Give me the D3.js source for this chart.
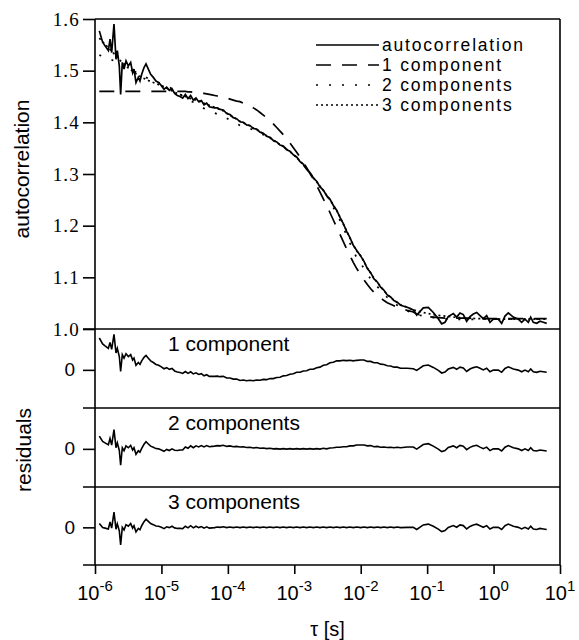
<!DOCTYPE html>
<html>
<head>
<meta charset="utf-8">
<script src="https://cdn.jsdelivr.net/npm/d3@7"></script>
<style>
  body { margin: 0; background: #fff; }
</style>
</head>
<body>
<div id="chart"></div>
<script>
// log10 of lag time tau [s]
var logTau = [
  -5.935, -5.885, -5.849, -5.799, -5.774, -5.749, -5.714, -5.684, -5.664, -5.634,
  -5.614, -5.589, -5.563, -5.533, -5.498, -5.463, -5.433, -5.413, -5.383, -5.348,
  -5.323, -5.297, -5.262, -5.232, -5.197, -5.162, -5.122, -5.082, -5.042, -5.001,
  -4.961, -4.921, -4.881, -4.841, -4.801, -4.761, -4.720, -4.680, -4.640, -4.600,
  -4.560, -4.520, -4.480, -4.439, -4.399, -4.359, -4.319, -4.279, -4.239, -4.199,
  -4.158, -4.118, -4.068, -4.018, -3.968, -3.918, -3.868, -3.817, -3.767, -3.717,
  -3.667, -3.617, -3.567, -3.516, -3.466, -3.416, -3.366, -3.316, -3.265, -3.215,
  -3.165, -3.115, -3.065, -3.014, -2.964, -2.914, -2.864, -2.814, -2.764, -2.713,
  -2.663, -2.613, -2.563, -2.513, -2.462, -2.412, -2.362, -2.312, -2.262, -2.212,
  -2.162, -2.112, -2.060, -2.000, -1.950, -1.900, -1.850, -1.800, -1.750, -1.700,
  -1.650, -1.600, -1.550, -1.500, -1.450, -1.400, -1.300, -1.208, -1.157, -1.058,
  -0.983, -0.907, -0.832, -0.781, -0.731, -0.682, -0.606, -0.556, -0.505, -0.456,
  -0.405, -0.355, -0.305, -0.254, -0.204, -0.155, -0.104, -0.054, -0.004, 0.071,
  0.122, 0.172, 0.222, 0.297, 0.372, 0.423, 0.473, 0.523, 0.559, 0.598,
  0.649, 0.699, 0.749, 0.800
];

// measured autocorrelation
var autocorr = [
  1.577, 1.555, 1.548, 1.539, 1.561, 1.535, 1.590, 1.522, 1.539, 1.509,
  1.454, 1.516, 1.503, 1.519, 1.509, 1.516, 1.496, 1.503, 1.477, 1.487,
  1.480, 1.493, 1.506, 1.513, 1.503, 1.493, 1.487, 1.480, 1.477, 1.471,
  1.464, 1.468, 1.462, 1.465, 1.456, 1.452, 1.450, 1.447, 1.454, 1.446,
  1.452, 1.443, 1.447, 1.440, 1.442, 1.434, 1.437, 1.430, 1.429, 1.428,
  1.428, 1.425, 1.424, 1.417, 1.415, 1.409, 1.407, 1.401, 1.400, 1.395,
  1.394, 1.388, 1.387, 1.381, 1.379, 1.373, 1.371, 1.365, 1.362, 1.356,
  1.354, 1.347, 1.344, 1.337, 1.333, 1.324, 1.319, 1.309, 1.303, 1.292,
  1.286, 1.275, 1.269, 1.258, 1.251, 1.239, 1.230, 1.216, 1.204, 1.189,
  1.177, 1.162, 1.152, 1.141, 1.131, 1.117, 1.109, 1.097, 1.091, 1.081,
  1.075, 1.066, 1.062, 1.055, 1.052, 1.046, 1.042, 1.037, 1.027, 1.041,
  1.042, 1.032, 1.020, 1.010, 1.013, 1.024, 1.030, 1.023, 1.031, 1.028,
  1.015, 1.024, 1.029, 1.032, 1.026, 1.020, 1.026, 1.013, 1.019, 1.019,
  1.011, 1.025, 1.031, 1.023, 1.019, 1.013, 1.019, 1.013, 1.023, 1.013,
  1.011, 1.015, 1.013, 1.011
];

// one-component fit
var fit1 = [
  1.460, 1.460, 1.460, 1.460, 1.460, 1.460, 1.460, 1.460, 1.460, 1.460,
  1.460, 1.460, 1.460, 1.460, 1.460, 1.460, 1.460, 1.460, 1.460, 1.460,
  1.460, 1.460, 1.460, 1.460, 1.460, 1.460, 1.460, 1.460, 1.460, 1.460,
  1.460, 1.460, 1.460, 1.460, 1.460, 1.460, 1.460, 1.460, 1.460, 1.459,
  1.459, 1.458, 1.458, 1.457, 1.456, 1.456, 1.455, 1.454, 1.453, 1.452,
  1.451, 1.450, 1.448, 1.447, 1.445, 1.443, 1.441, 1.440, 1.437, 1.435,
  1.432, 1.428, 1.424, 1.419, 1.414, 1.409, 1.403, 1.397, 1.390, 1.383,
  1.376, 1.368, 1.360, 1.351, 1.342, 1.333, 1.323, 1.312, 1.301, 1.290,
  1.278, 1.265, 1.252, 1.239, 1.225, 1.211, 1.197, 1.183, 1.169, 1.155,
  1.142, 1.129, 1.117, 1.105, 1.095, 1.086, 1.078, 1.071, 1.065, 1.060,
  1.055, 1.051, 1.048, 1.045, 1.042, 1.040, 1.036, 1.033, 1.029, 1.026,
  1.024, 1.023, 1.022, 1.0215, 1.021, 1.021, 1.021, 1.021, 1.021, 1.021,
  1.021, 1.021, 1.0208, 1.0206, 1.0204, 1.0202, 1.020, 1.020, 1.020, 1.020,
  1.020, 1.020, 1.020, 1.020, 1.020, 1.020, 1.020, 1.020, 1.020, 1.020,
  1.020, 1.020, 1.020, 1.020
];

// two-component fit
var fit2 = [
  1.530, 1.528, 1.526, 1.524, 1.523, 1.521, 1.519, 1.518, 1.517, 1.515,
  1.514, 1.512, 1.510, 1.508, 1.505, 1.503, 1.500, 1.499, 1.497, 1.494,
  1.492, 1.491, 1.489, 1.487, 1.485, 1.483, 1.481, 1.479, 1.477, 1.475,
  1.473, 1.470, 1.468, 1.465, 1.461, 1.458, 1.454, 1.451, 1.447, 1.444,
  1.441, 1.439, 1.436, 1.433, 1.430, 1.427, 1.425, 1.422, 1.420, 1.418,
  1.416, 1.414, 1.411, 1.408, 1.404, 1.401, 1.398, 1.394, 1.392, 1.390,
  1.388, 1.385, 1.382, 1.379, 1.376, 1.372, 1.369, 1.365, 1.361, 1.357,
  1.353, 1.348, 1.343, 1.338, 1.332, 1.325, 1.318, 1.310, 1.302, 1.293,
  1.285, 1.276, 1.267, 1.258, 1.248, 1.235, 1.224, 1.210, 1.196, 1.181,
  1.166, 1.151, 1.138, 1.127, 1.117, 1.106, 1.097, 1.089, 1.082, 1.075,
  1.068, 1.061, 1.056, 1.051, 1.046, 1.042, 1.035, 1.030, 1.028, 1.025,
  1.023, 1.022, 1.021, 1.020, 1.0195, 1.019, 1.019, 1.0188, 1.0185, 1.0182,
  1.018, 1.0185, 1.0188, 1.019, 1.0195, 1.0195, 1.0196, 1.0194, 1.019, 1.019,
  1.019, 1.019, 1.019, 1.019, 1.019, 1.019, 1.019, 1.019, 1.019, 1.019,
  1.019, 1.019, 1.019, 1.019
];

// three-component fit
var fit3 = [
  1.563, 1.556, 1.551, 1.545, 1.541, 1.538, 1.533, 1.529, 1.526, 1.522,
  1.519, 1.516, 1.513, 1.509, 1.505, 1.502, 1.499, 1.497, 1.494, 1.491,
  1.489, 1.487, 1.485, 1.483, 1.481, 1.479, 1.477, 1.475, 1.473, 1.471,
  1.469, 1.466, 1.463, 1.461, 1.458, 1.456, 1.454, 1.452, 1.450, 1.448,
  1.446, 1.445, 1.443, 1.441, 1.439, 1.437, 1.435, 1.433, 1.431, 1.429,
  1.427, 1.425, 1.422, 1.418, 1.414, 1.410, 1.406, 1.402, 1.399, 1.396,
  1.393, 1.389, 1.386, 1.382, 1.378, 1.374, 1.370, 1.366, 1.361, 1.357,
  1.353, 1.348, 1.343, 1.338, 1.332, 1.325, 1.318, 1.310, 1.302, 1.293,
  1.285, 1.276, 1.268, 1.259, 1.250, 1.240, 1.229, 1.217, 1.203, 1.190,
  1.176, 1.163, 1.151, 1.142, 1.130, 1.118, 1.108, 1.098, 1.090, 1.082,
  1.074, 1.067, 1.061, 1.056, 1.051, 1.047, 1.042, 1.037, 1.035, 1.032,
  1.030, 1.028, 1.0265, 1.0258, 1.025, 1.0243, 1.0232, 1.0225, 1.022, 1.0215,
  1.021, 1.0207, 1.0204, 1.0202, 1.020, 1.0198, 1.0196, 1.0194, 1.019, 1.019,
  1.019, 1.019, 1.019, 1.019, 1.019, 1.019, 1.019, 1.019, 1.019, 1.019,
  1.019, 1.019, 1.019, 1.019
];

var mainTicks = [1.0, 1.1, 1.2, 1.3, 1.4, 1.5, 1.6];
var xTickExps = [-6, -5, -4, -3, -2, -1, 0, 1];
var legendLabels = ["autocorrelation", "1 component", "2 components", "3 components"];
var residualLabels = ["1 component", "2 components", "3 components"];

var W = 579, H = 640;
var margin = {left: 95, right: 560, top: 19, mainBottom: 329};
var panelEdges = [329, 408, 487, 565];
var sans = "'Liberation Sans', Arial, Helvetica, sans-serif";
var serif = "'Liberation Serif', 'Times New Roman', serif";
var dashes = [null, "15,11", "2,11", "2,3"];

var svg = d3.select("#chart").append("svg")
    .attr("width", W)
    .attr("height", H)
    .style("background", "#fff");

var x = d3.scaleLog().domain([1e-6, 1e1]).range([margin.left, margin.right]);
var yMain = d3.scaleLinear().domain([1.0, 1.6]).range([margin.mainBottom, margin.top]);

var points = logTau.map(function(lt, i) {
    return {t: Math.pow(10, lt), g: autocorr[i], f: [fit1[i], fit2[i], fit3[i]]};
});

// main panel curves
function mainLine(acc) {
    return d3.line().x(function(d) { return x(d.t); }).y(function(d) { return yMain(acc(d)); });
}
var curveAcc = [
    function(d) { return d.g; },
    function(d) { return d.f[0]; },
    function(d) { return d.f[1]; },
    function(d) { return d.f[2]; }
];
[1, 2, 3, 0].forEach(function(k) {
    svg.append("path")
        .datum(points)
        .attr("fill", "none")
        .attr("stroke", "#000")
        .attr("stroke-width", 1.7)
        .attr("stroke-dasharray", dashes[k])
        .attr("d", mainLine(curveAcc[k]));
});

// main y axis
var yAxisG = svg.append("g")
    .attr("transform", "translate(" + margin.left + ",0)")
    .call(d3.axisLeft(yMain).tickValues(mainTicks).tickSize(12).tickSizeOuter(0)
        .tickPadding(3).tickFormat(d3.format(".1f")));
yAxisG.select(".domain").remove();
yAxisG.selectAll(".tick line").attr("stroke-width", 1.6);
yAxisG.selectAll(".tick text")
    .style("font-family", serif)
    .style("font-size", "19px")
    .attr("letter-spacing", 1.2)
    .attr("fill", "#000");

// residual panels
residualLabels.forEach(function(label, k) {
    var yR = d3.scaleLinear().domain([-0.14, 0.15]).range([panelEdges[k + 1], panelEdges[k]]);
    svg.append("path")
        .datum(points)
        .attr("fill", "none")
        .attr("stroke", "#000")
        .attr("stroke-width", 1.6)
        .attr("d", d3.line()
            .x(function(d) { return x(d.t); })
            .y(function(d) { return yR(d.g - d.f[k]); }));

    var ax = svg.append("g")
        .attr("transform", "translate(" + margin.left + ",0)")
        .call(d3.axisLeft(yR).tickValues([0]).tickSize(12).tickSizeOuter(0).tickPadding(8)
            .tickFormat(d3.format("d")));
    ax.select(".domain").remove();
    ax.selectAll(".tick line").attr("stroke-width", 1.6);
    ax.selectAll(".tick text")
        .style("font-family", sans)
        .style("font-size", "19px")
        .attr("fill", "#000");

    svg.append("text")
        .attr("x", 168)
        .attr("y", [351, 430, 509][k])
        .style("font-family", sans)
        .style("font-size", "21px")
        .text(label);
});

// frame and panel separators
var frame = svg.append("g").attr("stroke", "#000").attr("stroke-width", 1.6);
frame.append("line").attr("x1", margin.left).attr("x2", margin.right)
    .attr("y1", margin.top).attr("y2", margin.top);
frame.append("line").attr("x1", margin.left).attr("x2", margin.left)
    .attr("y1", margin.top).attr("y2", panelEdges[3]);
frame.append("line").attr("x1", margin.right).attr("x2", margin.right)
    .attr("y1", margin.top).attr("y2", panelEdges[3]);
panelEdges.forEach(function(yy) {
    frame.append("line").attr("x1", margin.left - 12).attr("x2", margin.right)
        .attr("y1", yy).attr("y2", yy);
});

// x axis
var xAxisG = svg.append("g")
    .attr("transform", "translate(0," + panelEdges[3] + ")")
    .call(d3.axisBottom(x).tickValues(xTickExps.map(function(e) { return Math.pow(10, e); }))
        .tickSize(9).tickSizeOuter(0).tickFormat(""));
xAxisG.select(".domain").remove();
xAxisG.selectAll(".tick line").attr("stroke-width", 1.6);

xTickExps.forEach(function(e) {
    var t = svg.append("text")
        .attr("x", x(Math.pow(10, e)))
        .attr("y", 600)
        .attr("text-anchor", "middle")
        .style("font-family", sans)
        .style("font-size", "20px");
    t.append("tspan").text("10");
    t.append("tspan").attr("dy", -9).style("font-size", "15px").text(e);
});

// axis titles
svg.append("text")
    .attr("transform", "translate(29,169) rotate(-90)")
    .attr("text-anchor", "middle")
    .style("font-family", sans)
    .style("font-size", "21px")
    .text("autocorrelation");
svg.append("text")
    .attr("transform", "translate(31,450) rotate(-90)")
    .attr("text-anchor", "middle")
    .style("font-family", sans)
    .style("font-size", "21px")
    .text("residuals");
svg.append("text")
    .attr("x", (margin.left + margin.right) / 2)
    .attr("y", 636)
    .attr("text-anchor", "middle")
    .style("font-family", sans)
    .style("font-size", "20px")
    .text("\u03c4 [s]");

// legend
var legendY = [45, 65, 85, 105];
legendLabels.forEach(function(label, i) {
    svg.append("line")
        .attr("x1", 316).attr("x2", 379)
        .attr("y1", legendY[i]).attr("y2", legendY[i])
        .attr("stroke", "#000")
        .attr("stroke-width", 1.7)
        .attr("stroke-dasharray", dashes[i]);
    svg.append("text")
        .attr("x", 382)
        .attr("y", legendY[i] + 6)
        .style("font-family", sans)
        .style("font-size", "17.5px")
        .attr("letter-spacing", 1.8)
        .text(label);
});
</script>
</body>
</html>
